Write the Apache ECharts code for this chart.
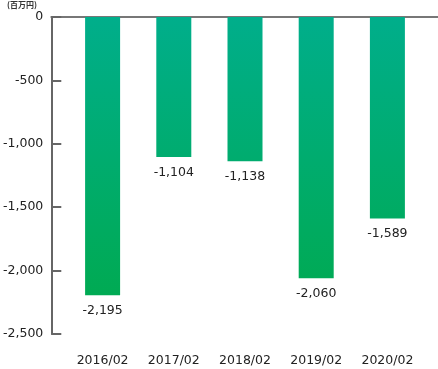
<!DOCTYPE html>
<html><head><meta charset="utf-8">
<script src="https://cdn.jsdelivr.net/npm/echarts@6/dist/echarts.min.js"></script>
<style>html,body{margin:0;padding:0;background:#fff}#c{width:438px;height:369px}</style>
</head><body><div id="c"></div>
<script>
const categories = ['2016/02','2017/02','2018/02','2019/02','2020/02'];
const values = [-2195, -1104, -1138, -2060, -1589];
const yMin = -2500, yMax = 0, yStep = 500;
const unitLabel = '(百万円)';
const font = '"DejaVu Sans", sans-serif';
const cjkFont = '"Noto Sans CJK JP", sans-serif';

const chart = echarts.init(document.getElementById('c'), null, {renderer:'canvas'});
const fmt = v => v === 0 ? '0' : v.toLocaleString('en-US');
chart.setOption({
  animation: false,
  graphic: [{type:'text', left: 7, top: 1, style:{text: unitLabel, fontSize: 8, fontWeight: 'bold', fill:'#333', fontFamily: cjkFont}}],
  grid: [
    {left: 45, right: 0, top: 17, bottom: 35, containLabel: false},
    {left: 67, right: 15, top: 17, bottom: 35, containLabel: false}
  ],
  xAxis: [
    {gridIndex: 0, type: 'category', data: categories, position: 'top',
     axisLine: {show: true, onZero: false, lineStyle: {color: '#777', width: 2}},
     axisTick: {show: false}, axisLabel: {show: false}, splitLine: {show: false}},
    {gridIndex: 1, type: 'category', data: categories, position: 'bottom',
     axisLine: {show: false, onZero: false}, axisTick: {show: false},
     axisLabel: {color: '#222', fontSize: 12.5, fontFamily: font, margin: 20}}
  ],
  yAxis: [
    {gridIndex: 0, type: 'value', min: yMin, max: yMax, interval: yStep,
     axisLine: {show: true, lineStyle: {color: '#666', width: 2}},
     axisTick: {show: true, inside: true, length: 10, lineStyle: {color: '#666', width: 2}},
     axisLabel: {color: '#222', fontSize: 12.5, fontFamily: font, margin: 8, padding: [8, 0, 0, 0], formatter: fmt},
     splitLine: {show: false}},
    {gridIndex: 1, type: 'value', min: yMin, max: yMax, interval: yStep,
     axisLine: {show: false}, axisTick: {show: false}, axisLabel: {show: false}, splitLine: {show: false}}
  ],
  series: [{
    type: 'bar', xAxisIndex: 1, yAxisIndex: 1, data: values, barWidth: 35,
    itemStyle: {color: new echarts.graphic.LinearGradient(0, 17, 0, 300, [
      {offset: 0, color: '#00AE8B'}, {offset: 1, color: '#00AA52'}], true)},
    label: {show: true, position: 'bottom', distance: 9, color: '#222', fontSize: 12.5, fontFamily: font, formatter: p => fmt(p.value)}
  }]
});
</script></body></html>
